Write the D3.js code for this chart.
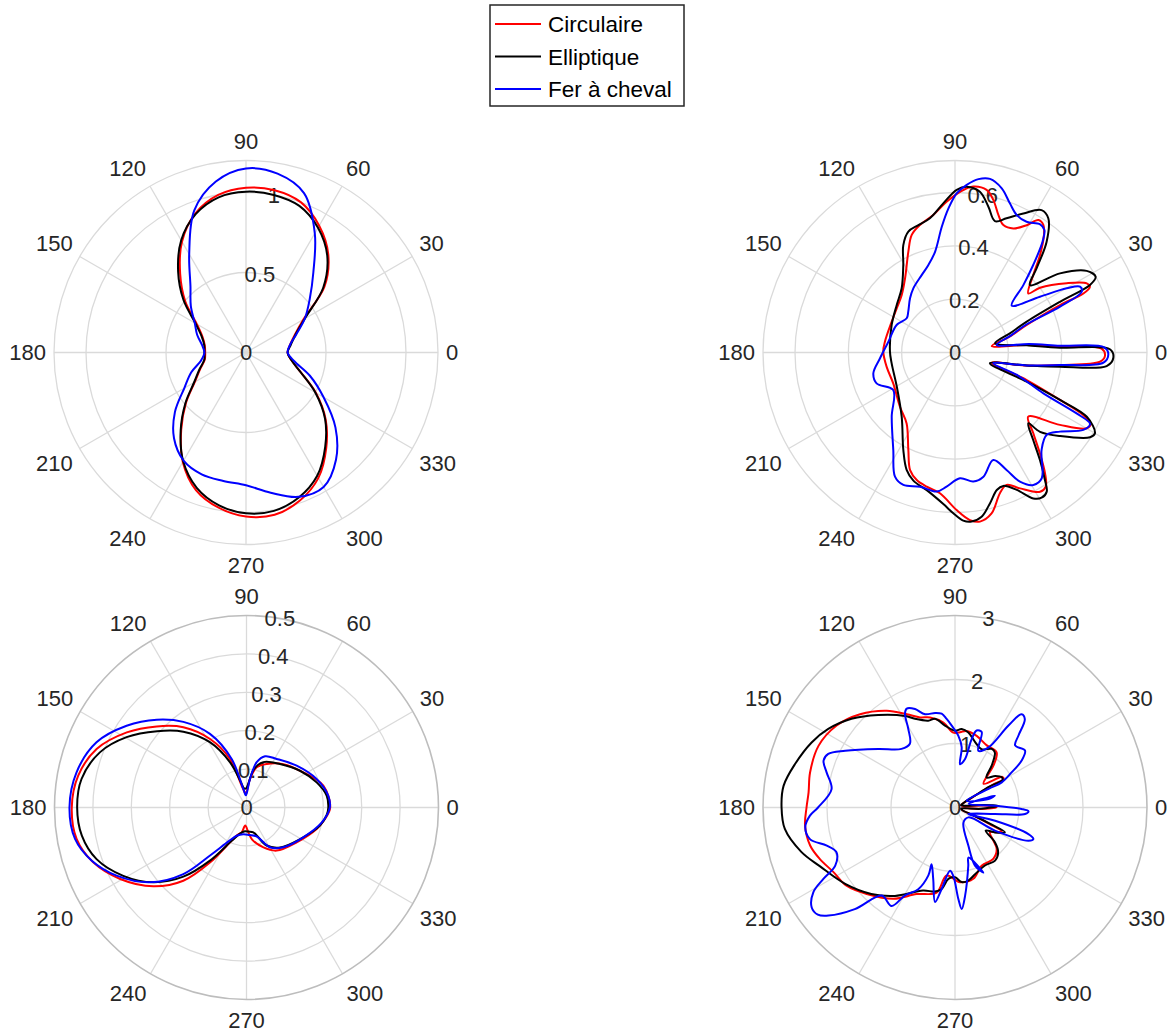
<!DOCTYPE html>
<html><head><meta charset="utf-8">
<script src="https://cdn.jsdelivr.net/npm/d3@7"></script>
<style>body{margin:0;background:#fff;} text{font-family:"Liberation Sans",Arial,Helvetica,sans-serif;fill:#262626;}</style>
</head><body><script>
// ---------------- DATA ----------------
const seriesNames = ["Circulaire", "Elliptique", "Fer à cheval"];
const seriesColors = ["#ff0000", "#000000", "#0000ff"];
const thetaTicks = [0, 30, 60, 90, 120, 150, 180, 210, 240, 270, 300, 330];

// Panel 1 (top-left): common angle grid
const tlTheta = [0,10,20,30,40,50,60,70,80,90,100,110,120,130,140,150,160,170,180,190,200,210,220,230,240,250,260,270,280,290,300,310,320,330,340,350];
const tlCirc = [0.26,0.28,0.325,0.415,0.64,0.80,0.915,1.0,1.03,1.03,1.0,0.925,0.80,0.64,0.495,0.355,0.29,0.262,0.255,0.262,0.305,0.37,0.49,0.63,0.79,0.915,0.985,1.025,1.03,0.985,0.905,0.78,0.65,0.505,0.365,0.29];
const tlEllip = [0.26,0.285,0.33,0.425,0.63,0.79,0.9,0.975,1.0,1.005,0.985,0.92,0.81,0.66,0.51,0.365,0.295,0.265,0.26,0.265,0.31,0.375,0.495,0.635,0.785,0.9,0.97,1.005,1.005,0.965,0.89,0.77,0.645,0.5,0.365,0.29];
const tlFer = [0.26,0.28,0.335,0.425,0.52,0.655,0.86,1.06,1.135,1.15,1.085,0.945,0.71,0.54,0.45,0.37,0.325,0.28,0.26,0.285,0.365,0.445,0.58,0.70,0.78,0.81,0.815,0.83,0.89,0.96,0.97,0.875,0.73,0.56,0.425,0.305];
const tlTicks = [0, 0.5, 1];

// Panel 2 (top-right): [theta (deg), r] in trace order
const trCirc = [[358.7,0.5625],[1.5,0.55],[3.2,0.394],[6,0.27],[10,0.14],[16,0.21],[21,0.288],[24.3,0.432],[24.7,0.53],[26,0.563],[27.7,0.558],[31.8,0.493],[37.3,0.401],[38.9,0.353],[44.7,0.413],[48.9,0.485],[52.9,0.553],[55.3,0.582],[57.8,0.587],[60.6,0.548],[64.8,0.514],[69.2,0.511],[72.5,0.541],[75.9,0.59],[79,0.621],[83.7,0.626],[88.2,0.603],[93.2,0.566],[99,0.522],[105.4,0.496],[110.2,0.47],[114.8,0.417],[124,0.335],[132.8,0.294],[142.9,0.274],[154,0.264],[171.2,0.266],[179.3,0.269],[191.7,0.262],[206.6,0.259],[224.6,0.29],[235.7,0.322],[244.4,0.405],[249.1,0.472],[253.3,0.499],[258.1,0.514],[263.9,0.531],[270.6,0.591],[275.1,0.631],[278.4,0.641],[282.8,0.619],[287.7,0.554],[291.3,0.533],[295.6,0.565],[301.4,0.612],[304.1,0.607],[306.7,0.565],[310.1,0.494],[314.1,0.422],[318.8,0.365],[325.4,0.478],[330.1,0.57],[332.2,0.575],[334,0.535],[335.7,0.432],[339,0.288],[344.5,0.143],[349.5,0.27],[353.2,0.397],[356.4,0.545]];
const trEllip = [[358,0.594],[1.2,0.581],[2.6,0.394],[5.7,0.27],[12.9,0.154],[19.2,0.218],[23.3,0.293],[25.8,0.437],[26.6,0.566],[28.3,0.599],[31.8,0.581],[37,0.493],[42,0.378],[45.9,0.44],[50.4,0.539],[55.2,0.613],[58.7,0.625],[63.8,0.581],[69,0.539],[73.1,0.515],[77.1,0.561],[81.2,0.61],[86,0.623],[89.4,0.61],[94.5,0.561],[100.6,0.512],[106,0.497],[111.1,0.486],[115.7,0.447],[120.6,0.381],[129.7,0.313],[140.8,0.282],[156.5,0.259],[179,0.244],[189.7,0.241],[210.4,0.253],[230.3,0.313],[242.1,0.414],[247.6,0.476],[252,0.505],[258.4,0.527],[265.6,0.57],[269.4,0.603],[272.8,0.631],[275.6,0.637],[279.2,0.624],[283.1,0.58],[286.9,0.539],[289.9,0.532],[294.2,0.565],[298.2,0.621],[300.8,0.634],[303.4,0.625],[305.2,0.585],[308.3,0.514],[311.8,0.44],[316,0.382],[317,0.436],[321.5,0.503],[327.9,0.598],[330,0.606],[334,0.55],[335.7,0.432],[337.9,0.29],[342.8,0.137],[349.8,0.273],[352.3,0.397],[354.9,0.571]];
const trFer = [[359.4,0.575],[2,0.56],[3.7,0.395],[6.5,0.28],[10.2,0.159],[17,0.22],[21.5,0.289],[23.6,0.43],[25.6,0.527],[27.8,0.53],[29.9,0.483],[33.3,0.381],[39.6,0.276],[44.6,0.36],[48.2,0.44],[51.7,0.53],[53.9,0.569],[56.4,0.577],[61.3,0.559],[65.8,0.565],[69.8,0.596],[74.1,0.64],[78.6,0.664],[82.3,0.656],[86,0.63],[89.4,0.597],[92.6,0.541],[96,0.474],[101.2,0.385],[106.9,0.343],[113.3,0.316],[123,0.287],[129.7,0.264],[138.8,0.233],[144.7,0.222],[154.8,0.242],[170.8,0.253],[184.4,0.282],[194.3,0.316],[201.5,0.316],[211.3,0.271],[225.4,0.338],[237.7,0.433],[244.2,0.517],[248.7,0.533],[255.4,0.52],[262.5,0.526],[266.4,0.504],[272.3,0.472],[278.1,0.489],[282.9,0.478],[289.6,0.428],[293.7,0.481],[296.7,0.542],[300.6,0.577],[304.6,0.573],[311.6,0.489],[318,0.462],[323,0.493],[328.9,0.562],[332.1,0.573],[333.4,0.51],[335.2,0.365],[340,0.25],[344.2,0.149],[349.8,0.273],[353.2,0.397],[356.1,0.558]];
const trTicks = [0, 0.2, 0.4, 0.6];

// Panel 3 (bottom-left)
const blCirc = [[0,0.218],[15.9,0.208],[31.7,0.174],[49.7,0.148],[65.1,0.125],[75.8,0.108],[83,0.075],[88,0.045],[93,0.035],[97,0.04],[102.5,0.058],[108.8,0.133],[118,0.202],[128.2,0.266],[137.9,0.315],[147.9,0.368],[158.7,0.419],[169.3,0.446],[180,0.455],[190.5,0.45],[199.7,0.424],[209.5,0.378],[220.2,0.318],[229.2,0.252],[236.4,0.172],[244.7,0.1],[252,0.075],[259,0.066],[266,0.047],[274.2,0.065],[280,0.085],[293,0.113],[305,0.137],[325.2,0.159],[343,0.191],[352,0.207]];
const blEllip = [[0,0.213],[8.4,0.211],[19.7,0.194],[34.5,0.169],[52.4,0.143],[69.6,0.126],[79,0.102],[85,0.065],[91,0.05],[97,0.05],[103,0.07],[110,0.125],[119.3,0.195],[129.8,0.257],[139.5,0.306],[149.6,0.362],[159.4,0.408],[170.2,0.436],[180,0.441],[189.7,0.435],[199,0.413],[209,0.367],[218.8,0.311],[227.6,0.244],[235.5,0.168],[246,0.095],[256,0.07],[266,0.062],[275,0.063],[285.4,0.067],[297.9,0.112],[310,0.136],[329.5,0.162],[346.1,0.197],[355,0.21]];
const blFer = [[0,0.217],[8.2,0.215],[22.1,0.197],[39.8,0.17],[58.1,0.149],[70.1,0.142],[77.3,0.121],[83,0.075],[88,0.04],[93,0.032],[99.7,0.049],[107,0.132],[116.4,0.214],[126.4,0.277],[135.6,0.327],[145.7,0.378],[156.5,0.426],[168.3,0.452],[180,0.461],[190.4,0.454],[199,0.426],[207.7,0.382],[217.8,0.318],[226.5,0.239],[232.8,0.157],[242,0.1],[250.8,0.078],[263.2,0.07],[276,0.072],[289.4,0.08],[300.5,0.12],[312.8,0.141],[332.3,0.167],[348.8,0.2]];
const blTicks = [0, 0.1, 0.2, 0.3, 0.4, 0.5];

// Panel 4 (bottom-right)
const brCirc = [[0,0.65],[4,0.45],[9,0.15],[20,0.1],[27.7,0.15],[30.6,0.4],[31,0.7],[30.5,0.88],[33,0.88],[39.7,0.58],[47.5,0.89],[53,1.08],[62.9,1.09],[73.2,1.17],[81.4,1.21],[86.2,1.18],[91.3,1.17],[97.8,1.34],[105.5,1.46],[111.2,1.51],[117.3,1.64],[125.2,1.85],[135.5,2.08],[145.3,2.25],[155.7,2.34],[166.4,2.33],[174.1,2.30],[180,2.32],[186.9,2.36],[194.7,2.34],[200.9,2.26],[208,2.15],[215.8,2.09],[224.4,1.93],[236,1.72],[246.1,1.48],[257.8,1.36],[263,1.07],[273.8,1.17],[284.4,1.15],[294.6,1.0],[306.7,1.0],[315.1,0.92],[319,0.8],[324.6,0.67],[329,0.75],[332.8,0.82],[334.5,0.6],[337,0.3],[340,0.12],[350,0.1],[357,0.42]];
const brEllip = [[2.4,0.68],[5,0.45],[10,0.15],[20,0.1],[27.7,0.15],[30.6,0.36],[31.5,0.62],[30,0.86],[32.9,0.87],[38,0.8],[43.6,0.68],[48.8,0.87],[54,1.06],[57.9,1.08],[65.5,1.0],[72.9,1.07],[79.9,1.19],[85.1,1.23],[90,1.2],[97,1.29],[102.7,1.42],[107.1,1.42],[114.3,1.52],[118.6,1.63],[129.7,1.88],[139.4,2.13],[148.2,2.33],[155.6,2.46],[164.8,2.59],[172.8,2.70],[180,2.71],[187.2,2.68],[196.1,2.5],[203.6,2.3],[214.8,2.09],[225.9,1.88],[235.8,1.67],[248.9,1.39],[256.6,1.35],[260.7,1.29],[264.7,1.12],[270,1.09],[275.1,1.17],[280.3,1.16],[286.7,1.09],[297.3,1.02],[307,1.04],[314,0.97],[318.9,0.83],[323,0.6],[328.2,0.74],[333.6,0.87],[335,0.6],[337,0.3],[340,0.12],[350,0.1],[357,0.4]];
const brFer = [[2.6,0.63],[14.7,0.22],[17,0.54],[16.5,0.65],[14.3,0.54],[30.4,0.21],[29,0.6],[28.3,0.83],[31.8,1.04],[35.1,1.27],[39.1,1.41],[45.9,1.35],[48.6,1.50],[51.7,1.76],[54.5,1.79],[56.9,1.53],[61,1.07],[67.7,0.96],[70.5,1.25],[74.3,1.25],[76.3,1.10],[78.4,0.77],[83.4,0.68],[83.7,0.95],[87.3,1.12],[92.3,1.28],[95.4,1.39],[98.1,1.48],[101.9,1.51],[107.8,1.53],[112.1,1.66],[116,1.72],[118.1,1.66],[120.7,1.43],[125.3,1.22],[132.4,1.24],[142.7,1.51],[152.7,1.93],[157.1,2.15],[160.4,2.18],[164.7,2.08],[171.5,1.95],[180,2.14],[183.2,2.27],[187.5,2.36],[192.3,2.32],[196.6,2.09],[200.7,1.98],[205.9,2.08],[208.5,2.34],[210.9,2.58],[214.9,2.73],[218,2.72],[220.5,2.60],[225.4,2.23],[230.2,1.79],[237.2,1.83],[240.4,1.58],[245.8,1.40],[248.6,1.14],[247.6,0.96],[253.1,1.17],[258.1,1.51],[260.7,1.29],[265.5,0.99],[268.6,1.07],[272.1,1.43],[273.8,1.59],[276.5,1.39],[282.9,0.93],[285,0.81],[293.6,1.11],[289,0.96],[289.3,0.63],[299.3,0.27],[323.6,0.26],[329.9,0.72],[335.7,1.26],[338.1,1.32],[340.1,1.22],[341.8,0.66],[334,0.23],[350.8,0.63],[354.7,1.1],[357,1.15],[358.7,1.04]];
const brTicks = [0, 1, 2, 3];

// ---------------- DRAW ----------------
const W = 1171, H = 1033;
const svg = d3.select("body").append("svg").attr("width", W).attr("height", H);
const RPX = 192;
const gridColor = "#dadada";
const FS = 22;

const zip = (th, rs) => th.map((t, i) => [t, rs[i]]);
const panels = [
  {cx: 246, cy: 352.5, rmax: 1.2, ticks: tlTicks, dark: false,
   series: [zip(tlTheta, tlCirc), zip(tlTheta, tlEllip), zip(tlTheta, tlFer)]},
  {cx: 955, cy: 352.5, rmax: 0.72, ticks: trTicks, dark: false, series: [trCirc, trEllip, trFer]},
  {cx: 246.5, cy: 807.5, rmax: 0.5, ticks: blTicks, dark: true, series: [blCirc, blEllip, blFer]},
  {cx: 955, cy: 807.5, rmax: 3, ticks: brTicks, dark: true, series: [brCirc, brEllip, brFer]}
];

panels.forEach(p => {
  const g = svg.append("g").attr("transform", `translate(${p.cx},${p.cy})`);
  const r = d3.scaleLinear().domain([0, p.rmax]).range([0, RPX]);
  // spokes
  g.selectAll("line.spoke").data(thetaTicks).join("line")
    .attr("x1", 0).attr("y1", 0)
    .attr("x2", d => RPX * Math.cos(d * Math.PI / 180))
    .attr("y2", d => -RPX * Math.sin(d * Math.PI / 180))
    .attr("stroke", gridColor).attr("stroke-width", 1.3);
  // rings
  g.selectAll("circle.ring").data(p.ticks.filter(v => v > 0 && v < p.rmax - 1e-9)).join("circle")
    .attr("r", d => r(d)).attr("fill", "none").attr("stroke", gridColor).attr("stroke-width", 1.3);
  g.append("circle").attr("r", RPX).attr("fill", "none")
    .attr("stroke", p.dark ? "#bdbdbd" : gridColor).attr("stroke-width", p.dark ? 1.6 : 1.3);
  // theta labels
  thetaTicks.forEach(t => {
    const a = t * Math.PI / 180, c = Math.cos(a), s = Math.sin(a);
    const x = 200 * c, yb = -204 * s;
    const anchor = c > 0.01 ? "start" : (c < -0.01 ? "end" : "middle");
    const y = s > 0.01 ? yb : (s < -0.01 ? yb + 16.5 : 7.9);
    g.append("text").attr("x", x).attr("y", y).attr("text-anchor", anchor)
      .attr("font-size", FS).text(String(t));
  });
  // r tick labels (at 80 deg)
  const ra = 80 * Math.PI / 180;
  p.ticks.forEach(v => {
    g.append("text").attr("x", r(v) * Math.cos(ra)).attr("y", -r(v) * Math.sin(ra) + 7.9)
      .attr("text-anchor", "middle").attr("font-size", FS).text(String(v));
  });
  // series
  const line = d3.lineRadial()
    .angle(d => (90 - d[0]) * Math.PI / 180)
    .radius(d => r(d[1]))
    .curve(d3.curveCatmullRomClosed.alpha(0.5));
  p.series.forEach((data, i) => {
    g.append("path").attr("d", line(data)).attr("fill", "none")
      .attr("stroke", seriesColors[i]).attr("stroke-width", 2).attr("stroke-linejoin", "round");
  });
});

// legend
const lg = svg.append("g");
lg.append("rect").attr("x", 490).attr("y", 5).attr("width", 194).attr("height", 101)
  .attr("fill", "#fff").attr("stroke", "#262626").attr("stroke-width", 1.5);
seriesNames.forEach((n, i) => {
  const y = 24 + i * 32.5;
  lg.append("line").attr("x1", 495).attr("x2", 541).attr("y1", y).attr("y2", y)
    .attr("stroke", seriesColors[i]).attr("stroke-width", 2);
  lg.append("text").attr("x", 548).attr("y", y + 8).attr("font-size", 22.5).style("fill", "#000").text(n);
});
</script></body></html>
